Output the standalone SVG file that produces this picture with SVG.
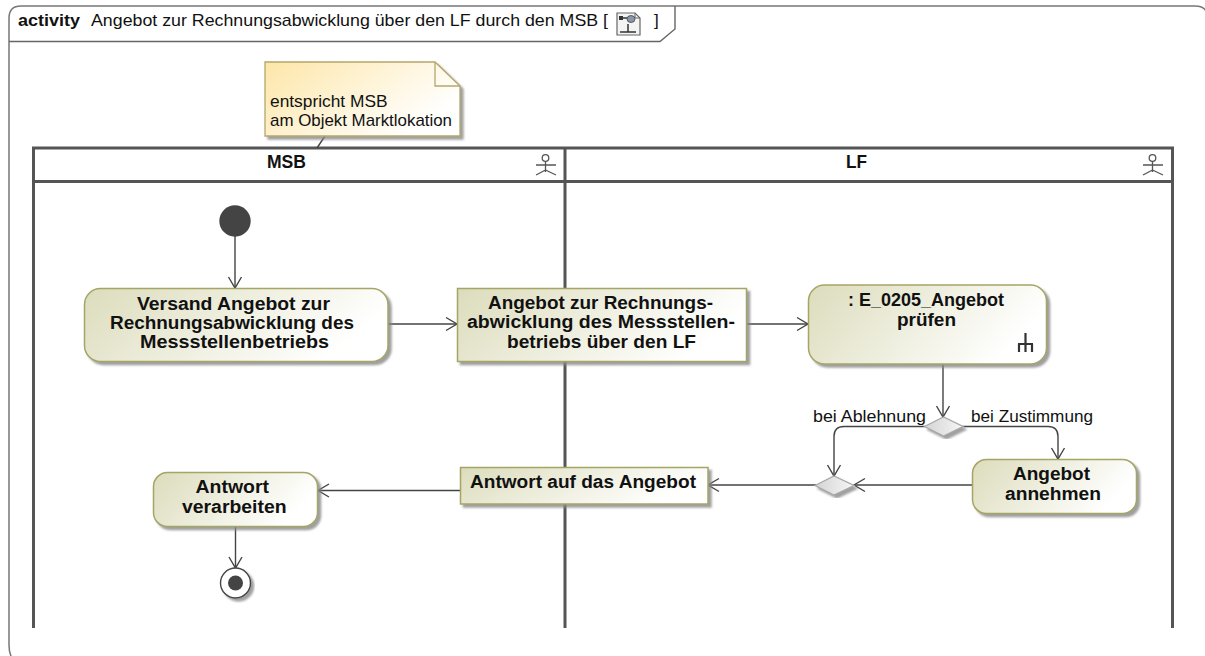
<svg xmlns="http://www.w3.org/2000/svg" width="1205" height="656" viewBox="0 0 1205 656">
<style>
text{font-family:"Liberation Sans",Arial,sans-serif;fill:#111}
.b{font-weight:bold;font-size:17.5px}
.s{font-size:17px}
.n{stroke:#a5a566;stroke-width:1.5;fill:url(#g);filter:url(#sh)}
.c{fill:none;stroke:#444;stroke-width:1.4}
.l{fill:none;stroke:#555;stroke-width:3}
.t{fill:none;stroke:#555;stroke-width:1.3}
</style>
<defs>
<linearGradient id="g" x1="0" y1="0" x2="1" y2="0.3"><stop offset="0" stop-color="#dcdcbc"/><stop offset="1" stop-color="#fff"/></linearGradient>
<linearGradient id="ng" x1="0" y1="0" x2="1" y2="0.5"><stop offset="0" stop-color="#fde6a8"/><stop offset="1" stop-color="#fff"/></linearGradient>
<linearGradient id="dg" x1="0" y1="0" x2="1" y2="0"><stop offset="0" stop-color="#d4d4d4"/><stop offset="1" stop-color="#f6f6f6"/></linearGradient>
<filter id="sh" x="-10%" y="-10%" width="125%" height="125%"><feDropShadow dx="3" dy="3" stdDeviation="1.2" flood-color="#888" flood-opacity="0.8"/></filter>
<marker id="a" markerWidth="14" markerHeight="16" refX="12" refY="8" orient="auto" markerUnits="userSpaceOnUse"><path d="M1 1.500L12 8L1 14.500" fill="none" stroke="#444" stroke-width="1.400"/></marker>
</defs>
<g id="frame">
<path d="M13 660Q9 654 9 645V18Q9 6 21 6H1195Q1203 6 1206 11" fill="none" stroke="#777" stroke-width="1.500"/>
<path d="M9 41.500H660L675 29V6" fill="none" stroke="#666" stroke-width="1.400"/>
<text x="18" y="26" style="font-weight:bold;font-size:17px" textLength="62" lengthAdjust="spacingAndGlyphs">activity</text>
<text x="91" y="26" class="s" textLength="517" lengthAdjust="spacingAndGlyphs">Angebot zur Rechnungsabwicklung über den LF durch den MSB [</text>
<text x="654" y="26" class="s">]</text>
<path d="M617 13H635L640 18V35H617Z" fill="#f4f4f4" stroke="#666" stroke-width="1.200"/>
<path d="M635 13V18H640" fill="none" stroke="#666"/>
<path d="M620 32H636M628 32V24M620 18H628" stroke="#333" fill="none" stroke-width="1.500"/>
<rect x="619" y="16" width="4" height="4" fill="#333"/>
<ellipse cx="631" cy="19" rx="4" ry="3.500" fill="#89a" stroke="#444" stroke-width="0.800"/>
</g>
<g id="swimlanes">
<path d="M33.500 628V148H1172.500V628" class="l"/>
<path d="M33.500 181.500H1172.500" class="l"/>
<path d="M565 148V628" class="l"/>
<text x="267" y="168" class="b" textLength="39" lengthAdjust="spacingAndGlyphs">MSB</text>
<text x="846" y="168" class="b" textLength="21" lengthAdjust="spacingAndGlyphs">LF</text>
<g class="t"><circle cx="545.500" cy="158" r="3.300"/><path d="M545.500 161V172M536 165H556M545.500 170L536 175M545.500 170L556 175"/></g>
<g class="t"><circle cx="1152.500" cy="158" r="3.300"/><path d="M1152.500 161V172M1143 165H1163M1152.500 170L1143 175M1152.500 170L1163 175"/></g>
</g>
<g id="note">
<path d="M325 136L317 148" class="c"/>
<path d="M265 62H435L460 86V136H265Z" fill="url(#ng)" stroke="#b5a66a" stroke-width="1.300" filter="url(#sh)"/>
<path d="M435 62V86H460" fill="none" stroke="#b5a66a" stroke-width="1.300"/>
<text x="270" y="107" class="s" textLength="117.500" lengthAdjust="spacingAndGlyphs">entspricht MSB</text>
<text x="270" y="126" class="s" textLength="182" lengthAdjust="spacingAndGlyphs">am Objekt Marktlokation</text>
</g>
<g id="connectors">
<path d="M235 236V288" class="c" marker-end="url(#a)"/>
<path d="M388 324H457" class="c" marker-end="url(#a)"/>
<path d="M746 324H808" class="c" marker-end="url(#a)"/>
<path d="M943 364V417" class="c" marker-end="url(#a)"/>
<path d="M925 426.500H844Q834 426.500 834 436.500V476" class="c" marker-end="url(#a)"/>
<path d="M962 426.500H1048Q1058 426.500 1058 436.500V459" class="c" marker-end="url(#a)"/>
<path d="M972 485H854" class="c" marker-end="url(#a)"/>
<path d="M816 485H708" class="c" marker-end="url(#a)"/>
<path d="M460 490.500H318" class="c" marker-end="url(#a)"/>
<path d="M235.500 527V568" class="c" marker-end="url(#a)"/>
</g>
<g id="start"><circle cx="235" cy="221" r="15.700" fill="#444"/></g>
<g id="versand">
<rect x="84.500" y="288.500" width="303.500" height="73" rx="16" class="n"/>
<text x="137" y="310" class="b" textLength="193" lengthAdjust="spacingAndGlyphs">Versand Angebot zur</text>
<text x="110" y="329" class="b" textLength="244" lengthAdjust="spacingAndGlyphs">Rechnungsabwicklung des</text>
<text x="140" y="348" class="b" textLength="189" lengthAdjust="spacingAndGlyphs">Messstellenbetriebs</text>
</g>
<g id="objekt1">
<rect x="457.500" y="288.500" width="289" height="73" class="n"/>
<text x="488" y="309" class="b" textLength="225" lengthAdjust="spacingAndGlyphs">Angebot zur Rechnungs-</text>
<text x="467" y="328" class="b" textLength="268" lengthAdjust="spacingAndGlyphs">abwicklung des Messstellen-</text>
<text x="507" y="348" class="b" textLength="189" lengthAdjust="spacingAndGlyphs">betriebs über den LF</text>
</g>
<g id="pruefen">
<rect x="808.500" y="285" width="238" height="79" rx="16" class="n"/>
<text x="848" y="306" class="b" textLength="156" lengthAdjust="spacingAndGlyphs">: E_0205_Angebot</text>
<text x="897" y="326" class="b" textLength="59" lengthAdjust="spacingAndGlyphs">prüfen</text>
<path d="M1019 352V344M1025.500 352V333M1032 352V344M1018 344H1033" fill="none" stroke="#333" stroke-width="2.200"/>
</g>
<g id="decision1">
<path d="M924.500 426.500L943.500 417L963 426.500L943.500 436Z" fill="url(#dg)" stroke="#a8a8a8" stroke-width="1.300" filter="url(#sh)"/>
<text x="813" y="422" class="s" textLength="113" lengthAdjust="spacingAndGlyphs">bei Ablehnung</text>
<text x="971" y="422" class="s" textLength="122" lengthAdjust="spacingAndGlyphs">bei Zustimmung</text>
</g>
<g id="merge">
<path d="M815 485.500L834 476L854 485.500L834 495Z" fill="url(#dg)" stroke="#a8a8a8" stroke-width="1.300" filter="url(#sh)"/>
</g>
<g id="annehmen">
<rect x="972.500" y="459.500" width="164" height="54" rx="14" class="n"/>
<text x="1013" y="480" class="b" textLength="77" lengthAdjust="spacingAndGlyphs">Angebot</text>
<text x="1005" y="499.500" class="b" textLength="96" lengthAdjust="spacingAndGlyphs">annehmen</text>
</g>
<g id="objekt2">
<rect x="460.500" y="467.500" width="247.500" height="36.500" class="n"/>
<text x="470" y="488" class="b" textLength="226" lengthAdjust="spacingAndGlyphs">Antwort auf das Angebot</text>
</g>
<g id="verarbeiten">
<rect x="153.500" y="472.500" width="164" height="54" rx="14" class="n"/>
<text x="195.500" y="493" class="b" textLength="73.500" lengthAdjust="spacingAndGlyphs">Antwort</text>
<text x="182" y="512.500" class="b" textLength="104.500" lengthAdjust="spacingAndGlyphs">verarbeiten</text>
</g>
<g id="end">
<circle cx="235.500" cy="583" r="15" fill="#fff" stroke="#444" stroke-width="1.400" filter="url(#sh)"/>
<circle cx="235.500" cy="583" r="7.500" fill="#444"/>
</g>
</svg>
